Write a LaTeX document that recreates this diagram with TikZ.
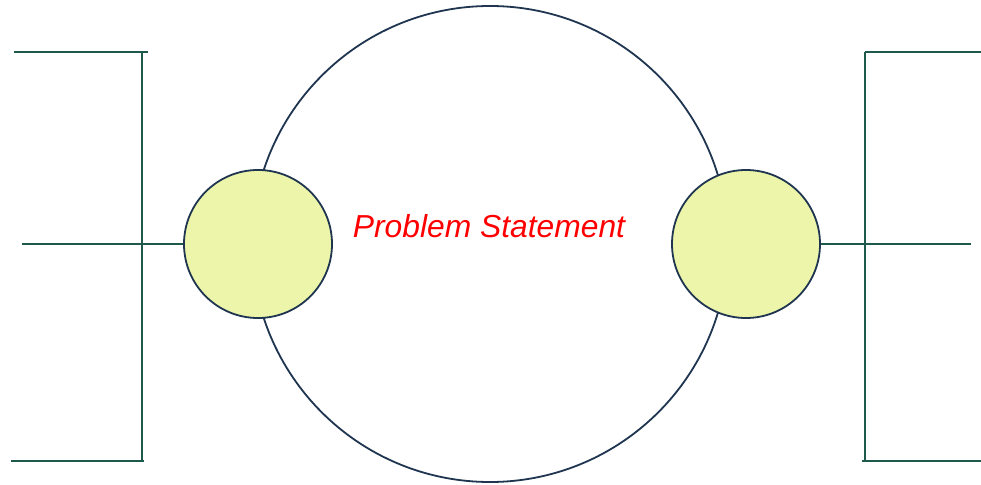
\documentclass[tikz,border=0pt]{standalone}
\usepackage{fontspec}
\setmainfont{Liberation Sans}
\definecolor{bracketgreen}{HTML}{1E5A4C}
\definecolor{ringnavy}{HTML}{1F3550}
\definecolor{ballfill}{HTML}{EDF5AB}
\tikzset{
  bracket/.style={draw=bracketgreen, line width=2pt},
  ring/.style={circle, draw=ringnavy, line width=1.8pt, inner sep=0pt},
  ball/.style={ring, fill=ballfill, minimum size=148pt},
}
\begin{document}
\begin{tikzpicture}[x=1pt,y=-1pt]
\useasboundingbox (0,0) rectangle (981,484);
\node[ring, minimum size=476pt] (big) at (490,244) {};
\node[ball] (lb) at (258,244) {};
\node[ball] (rb) at (746,244) {};
\node[text=red, font=\itshape\fontsize{31.8}{36}\selectfont] (title) at (489,226) {Problem Statement};
% left bracket
\coordinate (lt1) at (14,52);
\coordinate (lt2) at (148,52);
\coordinate (lv1) at (142,52);
\coordinate (lv2) at (142,461);
\coordinate (lbt1) at (11,461);
\coordinate (lbt2) at (144,461);
\coordinate (lm) at (22,244);
\draw[bracket] (lt1) -- (lt2);
\draw[bracket] (lv1) -- (lv2);
\draw[bracket] (lbt1) -- (lbt2);
\draw[bracket] (lm) -- (lb.west);
% right bracket
\coordinate (rt1) at (865,52);
\coordinate (rt2) at (981,52);
\coordinate (rv1) at (865,52);
\coordinate (rv2) at (865,461);
\coordinate (rbt1) at (862,461);
\coordinate (rbt2) at (981,461);
\coordinate (rm) at (971,244);
\draw[bracket] (rt1) -- (rt2);
\draw[bracket] (rv1) -- (rv2);
\draw[bracket] (rbt1) -- (rbt2);
\draw[bracket] (rb.east) -- (rm);
\end{tikzpicture}
\end{document}
